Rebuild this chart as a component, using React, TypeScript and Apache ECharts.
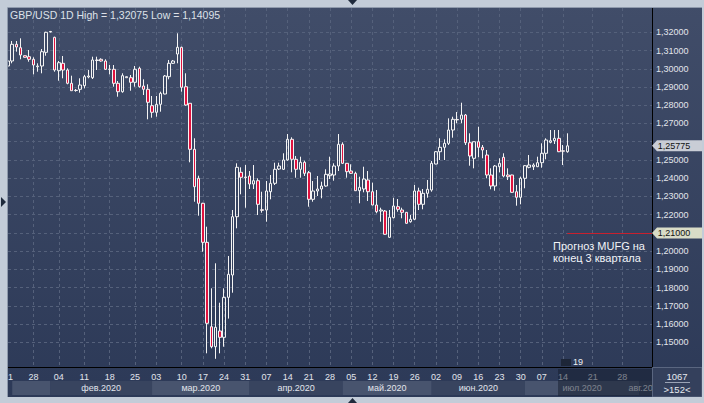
import React, { useEffect, useRef } from "react";
import * as echarts from "echarts";

// ---- data ----
// candles: [open, close, low, high]
const ohlc: number[][] = [
  [1.30152, 1.30426, 1.30025, 1.30481],
  [1.30426, 1.31342, 1.303, 1.31523],
  [1.31342, 1.31194, 1.30936, 1.31523],
  [1.31155, 1.30755, 1.30519, 1.31671],
  [1.30716, 1.30629, 1.30618, 1.30727],
  [1.30662, 1.30519, 1.30387, 1.31029],
  [1.30519, 1.30206, 1.29696, 1.30629],
  [1.30113, 1.30152, 1.29839, 1.303],
  [1.30152, 1.30936, 1.29751, 1.31084],
  [1.30903, 1.32, 1.30716, 1.3203],
  [1.32016, 1.32044, 1.32, 1.32075],
  [1.31725, 1.29932, 1.29839, 1.31758],
  [1.29894, 1.30333, 1.29345, 1.30426],
  [1.303, 1.29932, 1.29477, 1.307],
  [1.29932, 1.29203, 1.29148, 1.30025],
  [1.29203, 1.28797, 1.2879, 1.2962],
  [1.28819, 1.28808, 1.28742, 1.2889],
  [1.28874, 1.2911, 1.28687, 1.29477],
  [1.29071, 1.29565, 1.28929, 1.29658],
  [1.29548, 1.29603, 1.29477, 1.29932],
  [1.2951, 1.30481, 1.29439, 1.30662],
  [1.30453, 1.30481, 1.29932, 1.30662],
  [1.30519, 1.30426, 1.30387, 1.30574],
  [1.30426, 1.29971, 1.29932, 1.30519],
  [1.29976, 1.29965, 1.29696, 1.30206],
  [1.29971, 1.29203, 1.29016, 1.30206],
  [1.29203, 1.28742, 1.28468, 1.29329],
  [1.28742, 1.2962, 1.28687, 1.29751],
  [1.2951, 1.29565, 1.29499, 1.29576],
  [1.2951, 1.29258, 1.28797, 1.29658],
  [1.29258, 1.29971, 1.29016, 1.30152],
  [1.30025, 1.29016, 1.28962, 1.30113],
  [1.29055, 1.28874, 1.28561, 1.29422],
  [1.28874, 1.28161, 1.27229, 1.29148],
  [1.27975, 1.27613, 1.27316, 1.28507],
  [1.27613, 1.28051, 1.27371, 1.28507],
  [1.28051, 1.28654, 1.27646, 1.28742],
  [1.28616, 1.29603, 1.286, 1.29658],
  [1.29565, 1.303, 1.29422, 1.30481],
  [1.303, 1.30426, 1.30261, 1.30481],
  [1.3081, 1.31177, 1.303, 1.31945],
  [1.31177, 1.28983, 1.28742, 1.3121],
  [1.29016, 1.28013, 1.27975, 1.29751],
  [1.28106, 1.25583, 1.24871, 1.2811],
  [1.25583, 1.23532, 1.2271, 1.26187],
  [1.23993, 1.22622, 1.21942, 1.24136],
  [1.22622, 1.20483, 1.19968, 1.2265],
  [1.20483, 1.16041, 1.14396, 1.21339],
  [1.15855, 1.14758, 1.1467, 1.17961],
  [1.14758, 1.15822, 1.14095, 1.19332],
  [1.15619, 1.15273, 1.14396, 1.17171],
  [1.15273, 1.17467, 1.14758, 1.17961],
  [1.17467, 1.18728, 1.163, 1.19732],
  [1.1869, 1.21887, 1.17719, 1.22255],
  [1.21887, 1.24596, 1.21251, 1.24816],
  [1.24322, 1.24048, 1.23116, 1.24596],
  [1.24064, 1.24031, 1.22381, 1.24722],
  [1.24119, 1.2368, 1.23406, 1.24393],
  [1.2368, 1.23861, 1.23406, 1.24722],
  [1.23861, 1.22567, 1.2198, 1.23993],
  [1.22271, 1.22238, 1.22107, 1.23258],
  [1.22255, 1.23297, 1.21613, 1.23845],
  [1.23258, 1.23719, 1.22841, 1.24174],
  [1.23719, 1.24487, 1.23626, 1.24849],
  [1.24503, 1.24668, 1.24448, 1.24849],
  [1.24487, 1.24997, 1.24448, 1.25364],
  [1.24997, 1.26132, 1.24958, 1.26422],
  [1.26132, 1.25035, 1.24322, 1.26242],
  [1.25035, 1.24487, 1.24026, 1.25216],
  [1.24487, 1.24871, 1.24026, 1.25178],
  [1.24871, 1.24267, 1.24119, 1.24958],
  [1.243, 1.22841, 1.22436, 1.24393],
  [1.22841, 1.23297, 1.2271, 1.23845],
  [1.23297, 1.23406, 1.23022, 1.24119],
  [1.23406, 1.23571, 1.22896, 1.23807],
  [1.23571, 1.24212, 1.23532, 1.24487],
  [1.24136, 1.24229, 1.23955, 1.25178],
  [1.24174, 1.24668, 1.23861, 1.24816],
  [1.24668, 1.25858, 1.24393, 1.26422],
  [1.25858, 1.24816, 1.24777, 1.25967],
  [1.24816, 1.24355, 1.24026, 1.2483],
  [1.24393, 1.24267, 1.24229, 1.24761],
  [1.24267, 1.23313, 1.23297, 1.24355],
  [1.23313, 1.235, 1.22622, 1.24081],
  [1.23406, 1.23955, 1.23225, 1.24629],
  [1.239, 1.23258, 1.22748, 1.24393],
  [1.23258, 1.22529, 1.2251, 1.23752],
  [1.22529, 1.22161, 1.22074, 1.23351],
  [1.222, 1.22255, 1.21613, 1.22381],
  [1.222, 1.20922, 1.209, 1.22255],
  [1.20758, 1.21854, 1.20736, 1.22255],
  [1.21832, 1.22474, 1.21799, 1.22929],
  [1.22436, 1.22293, 1.22161, 1.22858],
  [1.22255, 1.22128, 1.21799, 1.22381],
  [1.22128, 1.21525, 1.215, 1.2214],
  [1.21613, 1.21745, 1.21558, 1.2198],
  [1.21745, 1.23297, 1.21706, 1.23626],
  [1.23297, 1.22567, 1.22255, 1.23478],
  [1.22567, 1.2317, 1.22293, 1.23406],
  [1.2317, 1.2339, 1.22929, 1.239],
  [1.23351, 1.24816, 1.23258, 1.24942],
  [1.24777, 1.25452, 1.24761, 1.2549],
  [1.25452, 1.25693, 1.24997, 1.26187],
  [1.25693, 1.25912, 1.24997, 1.26132],
  [1.25912, 1.26642, 1.25819, 1.27283],
  [1.26642, 1.27229, 1.2622, 1.27371],
  [1.27218, 1.27196, 1.27009, 1.27629],
  [1.27229, 1.27464, 1.27009, 1.28139],
  [1.27464, 1.25945, 1.25819, 1.27519],
  [1.25945, 1.25216, 1.24684, 1.26461],
  [1.2509, 1.26, 1.24541, 1.2601],
  [1.26, 1.25693, 1.25145, 1.26823],
  [1.25693, 1.25545, 1.2509, 1.25819],
  [1.25271, 1.24174, 1.23993, 1.25545],
  [1.24174, 1.23571, 1.2339, 1.24541],
  [1.23571, 1.24668, 1.23313, 1.24722],
  [1.24629, 1.24816, 1.24322, 1.2509],
  [1.25145, 1.24119, 1.24048, 1.25364],
  [1.24174, 1.24081, 1.239, 1.24541],
  [1.24174, 1.23225, 1.232, 1.2419],
  [1.23258, 1.22951, 1.22491, 1.23626],
  [1.22951, 1.23993, 1.22567, 1.24081],
  [1.23993, 1.24684, 1.23445, 1.24722],
  [1.24596, 1.24722, 1.24541, 1.25271],
  [1.24629, 1.24722, 1.24448, 1.24816],
  [1.24629, 1.24849, 1.2461, 1.25178],
  [1.24849, 1.25364, 1.24574, 1.25912],
  [1.25364, 1.26093, 1.25035, 1.26187],
  [1.25967, 1.26055, 1.25912, 1.26642],
  [1.26055, 1.26187, 1.25874, 1.26642],
  [1.26187, 1.25452, 1.2543, 1.26642],
  [1.25501, 1.25479, 1.24722, 1.25819],
  [1.25452, 1.25775, 1.25397, 1.26461],
];

const SLOT_COUNT = 153; // candles + future calendar slots shown on the axis
const slots = Array.from({ length: SLOT_COUNT }, (_, i) => String(i));

const tickSlots = [0, 6, 12, 18, 24, 30, 35, 41, 46, 51, 56, 61, 66, 71, 76, 81, 86, 91, 96, 101, 106, 111, 116, 121, 126, 131, 138, 145];
const tickLabels = ["21", "28", "04", "11", "18", "25", "03", "10", "17", "24", "31", "07", "14", "21", "28", "05", "12", "19", "26", "02", "09", "16", "23", "30", "07", "14", "21", "28"];

const monthNames = ["", "фев.2020", "мар.2020", "апр.2020", "май.2020", "июн.2020", "июл.2020", "авг.2020"];
const monthStarts = [1, 10, 34, 57, 79, 100, 122, 149];

const yTickMin = 1.15;
const yTickMax = 1.32;
const yTickStep = 0.01;
// axis levels hidden behind the price tags
const coveredLevels = [1.21, 1.26];

const lastPrice = 1.25775;
const forecastPrice = 1.21;
const forecastFromSlot = 132;

const titleText = "GBP/USD 1D High = 1,32075 Low = 1,14095";
const forecastNote = "Прогноз MUFG на\nконец 3 квартала";
const barsTotal = "1067";
const barsVisible = ">152<";
const scrollMark = "19";

// ---- layout ----
const W = 704;
const H = 403;
const PLOT_L = 8;
const PLOT_R = 652;
const PLOT_T = 8;
const PLOT_B = 367;
const TICK_T = 32.3; // pixel of yTickMax
const TICK_B = 342.3; // pixel of yTickMin
const FONT = '"Liberation Sans", Arial, sans-serif';

const fmt = (v: number) => v.toFixed(5).replace(".", ",");

export default function App() {
  const ref = useRef<HTMLDivElement>(null);

  useEffect(() => {
    if (!ref.current) return;
    const chart = echarts.init(ref.current, undefined, { renderer: "svg", width: W, height: H });

    const pxPer = (TICK_B - TICK_T) / (yTickMax - yTickMin);
    const y0Max = yTickMax + (TICK_T - PLOT_T) / pxPer;
    const y0Min = yTickMin - (PLOT_B - TICK_B) / pxPer;

    const tickSet = new Map<number, string>();
    tickSlots.forEach((s, i) => tickSet.set(s, tickLabels[i]));
    const isTick = (idx: number) => tickSet.has(idx);

    const gridCommon = { left: PLOT_L, right: W - PLOT_R };
    const gridLine = { color: "#55617b", width: 1, type: [3, 3] as any };
    const labelColor = "#e2e5ec";
    const TAG = "path://M0,5L5,0L50,0L50,10L5,10Z";

    const months = monthStarts.map((s, i) => [
      {
        xAxis: s,
        name: monthNames[i],
        itemStyle: { color: i % 2 === 0 ? "#48546e" : "#38445f" },
      },
      { xAxis: i + 1 < monthStarts.length ? monthStarts[i + 1] : SLOT_COUNT - 1 },
    ]);

    const frame = "#c3ccd8";
    const option: any = {
      animation: false,
      textStyle: { fontFamily: FONT },
      grid: [
        { ...gridCommon, top: PLOT_T, bottom: H - PLOT_B },
        { ...gridCommon, top: TICK_T, bottom: H - TICK_B },
        { ...gridCommon, top: 381, bottom: H - 395 },
      ],
      xAxis: [
        {
          gridIndex: 0,
          type: "category",
          data: slots,
          boundaryGap: false,
          axisLine: { show: true, lineStyle: { color: "#000", width: 1 } },
          axisTick: { show: false },
          axisLabel: {
            interval: (idx: number) => isTick(idx),
            formatter: (_v: string, idx: number) => tickSet.get(idx) ?? "",
            color: labelColor,
            fontSize: 9,
            margin: 5,
            fontFamily: FONT,
          },
          splitLine: { show: true, interval: (idx: number) => isTick(idx) && idx > 0, lineStyle: gridLine },
        },
        { gridIndex: 1, type: "category", data: slots, boundaryGap: false, show: false },
        { gridIndex: 2, type: "category", data: slots, boundaryGap: false, show: false },
      ],
      yAxis: [
        {
          gridIndex: 0,
          type: "value",
          min: y0Min,
          max: y0Max,
          position: "right",
          axisLine: { show: true, lineStyle: { color: "#000", width: 1 } },
          axisTick: { show: false },
          axisLabel: { show: false },
          splitLine: { show: false },
        },
        {
          gridIndex: 1,
          type: "value",
          min: yTickMin,
          max: yTickMax,
          interval: yTickStep,
          position: "right",
          axisLine: { show: false },
          axisTick: { show: false },
          axisLabel: {
            color: labelColor,
            fontSize: 9,
            margin: 4,
            fontFamily: FONT,
            formatter: (v: number) => (coveredLevels.some((c) => Math.abs(c - v) < 1e-6) ? "" : fmt(v)),
          },
          splitLine: { show: true, lineStyle: gridLine },
        },
        { gridIndex: 2, type: "value", min: 0, max: 1, show: false },
      ],
      series: [
        {
          type: "candlestick",
          xAxisIndex: 0,
          yAxisIndex: 0,
          data: ohlc,
          barWidth: 3,
          clip: true,
          itemStyle: {
            color: "rgba(0,0,0,0)",
            color0: "#e0123f",
            borderColor: "#f4f4f4",
            borderColor0: "#f4f4f4",
            borderColorDoji: "#f4f4f4",
            borderWidth: 1,
          },
        },
        {
          type: "line",
          xAxisIndex: 0,
          yAxisIndex: 0,
          data: [],
          silent: true,
          clip: false,
          markLine: {
            silent: true,
            symbol: ["none", "none"],
            label: { show: false },
            lineStyle: { color: "#c8202e", width: 1, type: "solid" },
            data: [[{ coord: [forecastFromSlot, forecastPrice] }, { coord: [SLOT_COUNT - 1, forecastPrice] }]],
          },
          markPoint: {
            silent: true,
            data: [
              {
                coord: [SLOT_COUNT - 1, lastPrice],
                symbol: TAG,
                symbolSize: [50, 11],
                symbolOffset: [25, 0],
                itemStyle: { color: "#c9cdd6" },
                label: { show: true, position: "inside", formatter: fmt(lastPrice), color: "#111", fontSize: 9, offset: [-3, 0], fontFamily: FONT },
              },
              {
                coord: [SLOT_COUNT - 1, forecastPrice],
                symbol: TAG,
                symbolSize: [50, 11],
                symbolOffset: [25, 0],
                itemStyle: { color: "#d9dcc7" },
                label: { show: true, position: "inside", formatter: fmt(forecastPrice), color: "#111", fontSize: 9, offset: [-3, 0], fontFamily: FONT },
              },
            ],
          },
        },
        {
          type: "line",
          xAxisIndex: 2,
          yAxisIndex: 2,
          data: [],
          silent: true,
          markArea: {
            silent: true,
            label: { show: true, position: "inside", color: labelColor, fontSize: 9, fontFamily: FONT },
            data: months,
          },
        },
      ],
      graphic: [
        // title
        { type: "text", x: 10, y: 15, z: 60, style: { text: titleText, fill: "#dde1e8", fontSize: 10.5, fontFamily: FONT, verticalAlign: "middle" } },
        // forecast note
        { type: "text", x: 553, y: 240, z: 60, style: { text: forecastNote, fill: "#f2f4f8", fontSize: 11, lineHeight: 12, fontFamily: FONT } },
        // future overlay in time scale
        { type: "rect", z: 60, shape: { x: 558, y: 369, width: PLOT_R - 558, height: 27 }, style: { fill: "rgba(20,27,44,0.5)" } },
        // scroll marker
        { type: "rect", z: 60, shape: { x: 561, y: 359, width: 10, height: 7 }, style: { fill: "#1d2638" } },
        { type: "text", x: 573, y: 362, z: 61, style: { text: scrollMark, fill: "#eef0f4", fontSize: 9, fontFamily: FONT, verticalAlign: "middle" } },
        // bottom-right box
        { type: "rect", z: 90, shape: { x: 652.5, y: 367.5, width: 49.5, height: 29.5 }, style: { fill: "#34405c", stroke: "#5a6680", lineWidth: 1 } },
        { type: "text", x: 677, y: 376, z: 91, style: { text: barsTotal, fill: "#e6e9ef", fontSize: 9.5, fontFamily: FONT, align: "center", verticalAlign: "middle" } },
        { type: "line", z: 91, shape: { x1: 665, y1: 382.5, x2: 690, y2: 382.5 }, style: { stroke: "#9aa3b5", lineWidth: 1 } },
        { type: "text", x: 677, y: 389, z: 91, style: { text: barsVisible, fill: "#e6e9ef", fontSize: 9.5, fontFamily: FONT, align: "center", verticalAlign: "middle" } },
        // frame
        { type: "rect", z: 100, shape: { x: 0, y: 0, width: W, height: PLOT_T }, style: { fill: frame } },
        { type: "rect", z: 100, shape: { x: 0, y: 0, width: PLOT_L, height: H }, style: { fill: frame } },
        { type: "rect", z: 100, shape: { x: 0, y: 397, width: W, height: H - 397 }, style: { fill: frame } },
        { type: "rect", z: 100, shape: { x: 702, y: 0, width: W - 702, height: H }, style: { fill: frame } },
        { type: "line", z: 101, shape: { x1: 7.5, y1: 7.5, x2: 702, y2: 7.5 }, style: { stroke: "#8f9aac", lineWidth: 1 } },
        { type: "line", z: 101, shape: { x1: 7.5, y1: 7.5, x2: 7.5, y2: 397 }, style: { stroke: "#8f9aac", lineWidth: 1 } },
        { type: "polygon", z: 101, shape: { points: [[348, 0], [357, 0], [352.5, 5]] }, style: { fill: "#1f2a3c" } },
        { type: "polygon", z: 101, shape: { points: [[348, 403], [357, 403], [352.5, 398]] }, style: { fill: "#1f2a3c" } },
        { type: "polygon", z: 101, shape: { points: [[1, 197], [1, 207], [6, 202]] }, style: { fill: "#1f2a3c" } },
      ],
    };

    chart.setOption(option);
    return () => chart.dispose();
  }, []);

  return (
    <div
      ref={ref}
      style={{
        position: "fixed",
        left: 0,
        top: 0,
        width: W,
        height: H,
        background: "linear-gradient(#414d69, #2c3957)",
      }}
    />
  );
}
